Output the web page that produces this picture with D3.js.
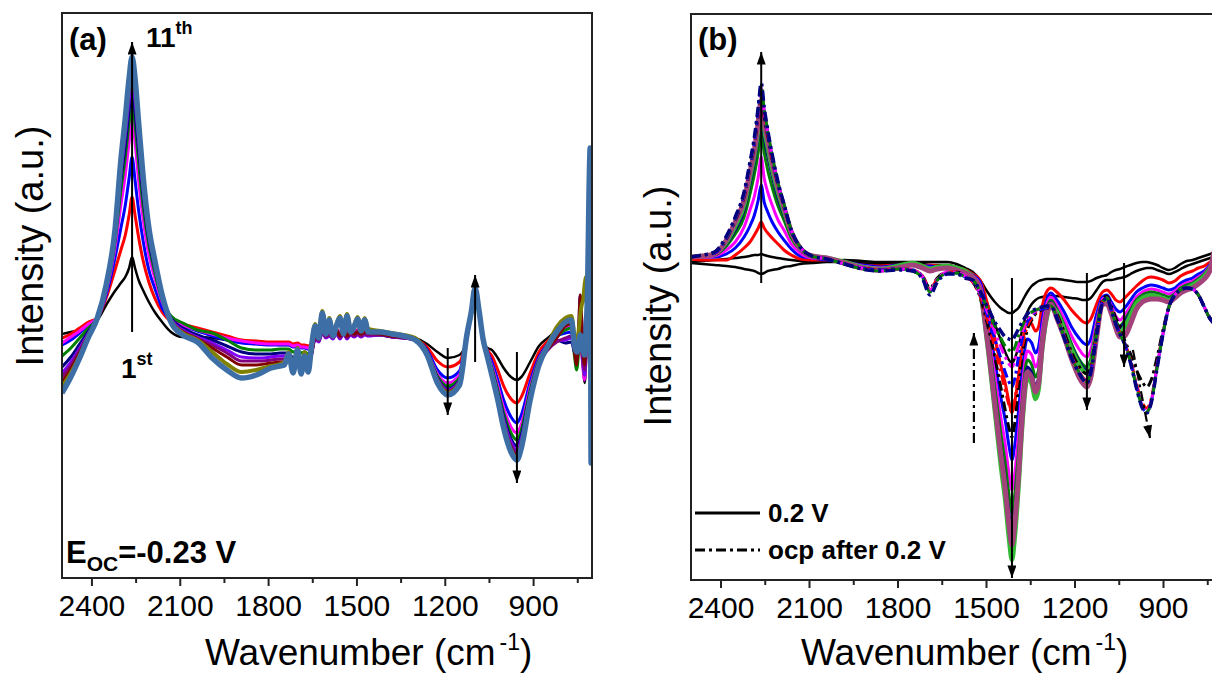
<!DOCTYPE html>
<html>
<head>
<meta charset="utf-8">
<script src="https://cdn.jsdelivr.net/npm/d3@7"></script>
<style>
  body { margin: 0; background: #fff; }
  svg { display: block; }
  text { font-family: Arial, "Liberation Sans", sans-serif; }
</style>
</head>
<body>
<svg id="fig" width="1212" height="676"></svg>
<script>
// ---------- Panel (a): spectra recorded at open circuit, scans 1 to 11 ----------
const waveA = [
  2500, 2470, 2440, 2410, 2380, 2350, 2320, 2300, 2285, 2272, 2262, 2252, 2240, 2225, 2205, 2185, 2160, 2130, 2090,
  2040, 1990, 1940, 1890, 1840, 1790, 1760,
  1745, 1730, 1715, 1700, 1688, 1676, 1664, 1652, 1640, 1628, 1616, 1604, 1592, 1580, 1568, 1556, 1544, 1532, 1520, 1508, 1496, 1484, 1472, 1460,
  1420, 1380, 1340, 1300, 1260, 1225, 1190, 1150, 1125, 1110, 1097, 1084, 1070, 1055, 1040, 1020, 1000, 975, 955, 940, 910, 880, 850, 820, 790, 770,
  760, 752, 745, 740, 735, 730, 725, 720, 715, 710, 706, 703, 700
];
const scanA01 = [
  6, 8, 10, 15, 20, 35, 49, 57, 63, 72, 83, 72, 60, 50, 38, 28, 18, 8, 3,
  3, 2, 0, -2, -4, -4, -5,
  -5, -5, -6, -6, -7, -7, -7, -4, 6, 5, 10, 8, 9, 7, 10, 7, 10, 7, 9, 8, 9, 8, 9, 8,
  6, 5, 4, 2, -4, -12, -18, -15, 0, 26, 48, 28, -2, -8, -10, -18, -28, -37, -40, -37, -22, -6, 2, 10, 17, 18,
  -5, -15, -10, 0, -15, -30, -43, -20, 40, 120, 180, -60, -20
];
const scanA02 = [
  2, 6, 12, 18, 22, 42, 70, 90, 105, 125, 143, 125, 103, 80, 58, 42, 28, 19, 16,
  12, 8, 4, 0, -1, -2, -2,
  -2, -2, -4, -3, -5, -5, -6, -3, 7, 5, 12, 9, 10, 8, 11, 7, 11, 7, 10, 8, 10, 8, 9, 8,
  7, 5, 4, 1, -7, -21, -27, -22, 3, 27, 50, 30, 1, -10, -16, -30, -46, -59, -63, -57, -33, -12, -1, 8, 15, 17,
  -3, -12, 5, 30, 10, -15, -30, 0, 40, 110, 160, -80, -30
];
const scanA03 = [
  -5, 0, 7, 15, 22, 45, 82, 112, 135, 162, 183, 160, 130, 100, 70, 52, 32, 20, 14,
  9, 4, 0, -3, -4, -5, -5,
  -5, -5, -7, -6, -8, -8, -9, -5, 6, 4, 11, 8, 9, 6, 10, 6, 10, 6, 9, 7, 9, 7, 8, 7,
  6, 4, 3, 1, -10, -30, -38, -31, 5, 27, 50, 30, 1, -12, -22, -40, -60, -77, -83, -75, -42, -17, -4, 4, 7, 8,
  -8, -10, 10, 45, 20, -10, -25, 0, 50, 130, 170, -85, -30
];
const scanA04 = [
  -3, 3, 9, 16, 22, 48, 92, 135, 165, 198, 222, 198, 160, 122, 85, 62, 38, 22, 15,
  10, 6, 2, -1, -3, -4, -4,
  -4, -4, -6, -5, -7, -7, -8, -4, 6, 4, 11, 8, 9, 6, 10, 6, 10, 6, 9, 7, 9, 7, 8, 7,
  6, 4, 3, 1, -12, -34, -43, -35, 5, 27, 50, 30, 1, -13, -26, -46, -68, -87, -93, -84, -47, -19, -5, 5, 12, 14,
  -5, -15, -5, 5, -10, -30, -40, -10, 40, 120, 165, -75, -25
];
const scanA05 = [
  -16, -8, 2, 12, 22, 50, 98, 150, 183, 218, 240, 216, 178, 135, 95, 68, 40, 24, 17,
  10, 7, 0, -8, -10, -10, -9,
  -9, -9, -12, -10, -13, -12, -14, -8, 4, 2, 10, 6, 8, 5, 9, 5, 9, 5, 8, 6, 8, 6, 8, 6,
  6, 4, 3, 1, -12, -36, -46, -38, 5, 27, 50, 30, 1, -14, -28, -50, -73, -93, -100, -90, -50, -20, -6, 3, 10, 12,
  -15, -30, -10, 10, -5, -25, -35, -10, 30, 110, 150, -70, -25
];
const scanA06 = [
  -27, -17, -4, 9, 22, 52, 102, 160, 195, 230, 252, 228, 190, 145, 100, 72, 42, 22, 12,
  5, 0, -6, -12, -14, -14, -13,
  -13, -13, -18, -14, -20, -17, -22, -12, 2, -1, 8, 3, 5, 2, 7, 2, 7, 2, 6, 4, 6, 4, 6, 5,
  5, 3, 2, 0, -13, -38, -49, -40, 5, 27, 50, 30, 1, -15, -30, -53, -77, -99, -106, -95, -53, -22, -8, 0, -3, -2,
  -12, -15, 0, 20, 5, -20, -30, 0, 40, 120, 160, -90, -35
];
const scanA07 = [
  -33, -22, -8, 7, 22, 53, 105, 167, 205, 240, 262, 240, 200, 152, 105, 75, 43, 21, 10,
  3, -3, -10, -17, -18, -17, -16,
  -16, -16, -21, -16, -23, -19, -25, -14, 1, -2, 7, 2, 4, 1, 6, 1, 6, 1, 5, 3, 5, 3, 5, 4,
  5, 3, 2, 0, -13, -39, -50, -41, 5, 27, 50, 30, 1, -16, -32, -55, -80, -102, -110, -99, -55, -23, -9, -1, 0, 2,
  -10, -18, -5, 10, 0, -25, -35, -5, 40, 110, 155, -80, -30
];
const scanA08 = [
  -37, -25, -10, 6, 22, 54, 107, 172, 212, 248, 269, 248, 207, 157, 108, 77, 44, 20, 9,
  2, -5, -13, -21, -21, -20, -19,
  -19, -18, -24, -17, -25, -20, -27, -14, 2, -1, 8, 3, 5, 2, 7, 2, 7, 2, 6, 4, 6, 4, 6, 5,
  5, 3, 2, 0, -14, -40, -51, -42, 5, 27, 50, 30, 1, -16, -33, -57, -82, -105, -113, -102, -57, -24, -10, -2, 2, 4,
  -8, -20, -2, 15, 0, -20, -30, 0, 40, 120, 160, -85, -30
];
const scanA09 = [
  -42, -29, -13, 5, 22, 55, 108, 176, 217, 254, 274, 254, 212, 161, 110, 78, 44, 19, 8,
  1, -8, -17, -25, -25, -23, -22,
  -22, -20, -27, -18, -28, -21, -28, -13, 4, 1, 12, 6, 8, 4, 10, 4, 10, 4, 9, 6, 8, 6, 8, 7,
  6, 4, 3, 1, -14, -41, -52, -43, 5, 27, 50, 30, 1, -17, -34, -58, -85, -108, -116, -104, -58, -24, -9, 2, 14, 16,
  -10, -25, 15, 45, 20, -15, -25, 10, 45, 120, 165, -80, -30
];
const scanA10 = [
  -47, -33, -16, 4, 22, 55, 109, 178, 220, 258, 278, 258, 215, 163, 111, 79, 45, 19, 7,
  0, -12, -24, -32, -30, -26, -24,
  -22, -12, -29, -8, -30, -12, -28, -3, 16, 5, 29, 9, 22, 7, 16, 24, 9, 26, 11, 15, 23, 12, 22, 11,
  9, 7, 5, 2, -14, -41, -53, -43, 5, 27, 51, 30, 1, -17, -34, -59, -86, -110, -118, -106, -59, -24, -5, 13, 22, 24,
  5, -5, 10, 25, 35, 40, 55, 63, 60, 110, 150, -95, -40
];
const scanA11 = [
  -53, -37, -18, 3, 22, 55, 110, 180, 222, 262, 283, 262, 218, 165, 112, 80, 45, 18, 5,
  -2, -18, -30, -38, -35, -28, -26,
  -25, -14, -33, -10, -34, -16, -32, -5, 14, 2, 27, 6, 20, 4, 14, 22, 6, 24, 8, 13, 21, 9, 20, 8,
  8, 6, 4, 0, -15, -43, -55, -45, 5, 28, 52, 30, 1, -17, -35, -60, -88, -112, -120, -108, -60, -25, -6, 8, 18, 20,
  -5, -12, -8, 5, 0, -10, -15, 10, 50, 150, 192, -123, -60
];

// ---------- Panel (b): spectra at 0.2 V (solid) and at ocp afterwards (dash-dot) ----------
const waveB = [
  2500, 2460, 2420, 2380, 2350, 2320, 2300, 2285, 2272, 2262, 2252, 2240, 2225, 2205, 2185, 2160, 2130, 2090,
  2040, 1980, 1920, 1860, 1800, 1750, 1715, 1690, 1665, 1630, 1600, 1570,
  1545, 1520, 1495, 1470, 1450, 1435, 1422, 1412, 1402, 1390, 1375, 1360, 1345, 1332, 1322, 1310, 1295, 1280,
  1260, 1235, 1210, 1185, 1170, 1158, 1145, 1125, 1105, 1090, 1075, 1060, 1046,
  1030, 1010, 990, 970, 955, 940, 920, 900, 880, 860, 840, 820, 800, 780, 760, 740, 720, 700
];
const potB1 = [
  0, 1, 2, 3, 4, 5, 6, 7, 7, 8, 7, 6, 5, 4, 3, 2, 1, 0,
  1, 2, 1, 0, 0, 0, 0, 0, 0, 0, -2, -6,
  -10, -18, -30, -40, -46, -49, -51, -51, -49, -46, -38, -30, -24, -21, -19, -18, -17, -17,
  -17, -18, -19, -20, -20, -20, -19, -16, -14, -13, -10, -8, -7,
  -5, -3, -1, 0, 0, -1, -3, -6, -8, -6, -2, 1, 2, 4, 6, 8, 10, 10
];
const potB2 = [
  -1, -2, -3, -4, -5, -7, -8, -9, -11, -12, -11, -9, -8, -7, -5, -4, -2, -1,
  0, 0, -1, -2, -2, -2, -2, -3, -3, -3, -5, -9,
  -14, -25, -42, -62, -78, -90, -98, -101, -96, -85, -65, -50, -42, -38, -36, -35, -34, -34,
  -34, -35, -36, -37, -38, -38, -36, -28, -20, -18, -18, -17, -16,
  -15, -12, -9, -7, -6, -6, -8, -10, -12, -10, -7, -4, -2, 0, 2, 4, 6, 6
];
const potB3 = [
  3, 2, 2, 2, 7, 14, 20, 27, 34, 40, 34, 29, 24, 18, 12, 7, 3, 2,
  2, 0, -3, -4, -3, -2, -4, -3, -4, -4, -6, -8,
  -12, -18, -42, -76, -103, -121, -140, -151, -139, -115, -79, -59, -62, -69, -65, -45, -30, -26,
  -30, -38, -48, -56, -60, -61, -57, -42, -30, -28, -32, -38, -40,
  -36, -30, -24, -19, -16, -15, -16, -18, -21, -19, -14, -11, -9, -6, -4, 0, 5, 5
];
const potB4 = [
  5, 5, 5, 8, 14, 25, 36, 47, 62, 77, 60, 50, 40, 30, 22, 13, 6, 4,
  2, 0, -3, -5, -3, -2, -4, -4, -5, -5, -7, -9,
  -13, -20, -55, -99, -135, -158, -184, -198, -182, -150, -103, -77, -81, -91, -85, -59, -38, -31,
  -38, -50, -65, -76, -81, -83, -77, -52, -35, -33, -40, -47, -50,
  -46, -38, -30, -26, -24, -23, -24, -26, -28, -26, -21, -18, -16, -12, -9, -2, 8, 8
];
const potB5 = [
  5, 5, 6, 12, 20, 35, 52, 66, 85, 105, 84, 70, 57, 42, 32, 18, 9, 4,
  3, 0, -4, -6, -4, -2, -5, -6, -6, -5, -7, -10,
  -14, -23, -64, -114, -155, -182, -212, -228, -210, -173, -119, -89, -93, -105, -98, -68, -43, -35,
  -43, -57, -74, -87, -93, -95, -88, -60, -37, -35, -44, -54, -58,
  -53, -44, -35, -30, -28, -27, -28, -30, -32, -29, -24, -21, -19, -15, -11, -3, 10, 10
];
const potB6 = [
  5, 6, 7, 16, 28, 45, 68, 88, 110, 130, 110, 92, 75, 56, 42, 24, 12, 5,
  4, 0, -5, -7, -5, -2, -5, -8, -6, -5, -7, -10,
  -14, -25, -70, -126, -171, -201, -233, -251, -231, -191, -131, -98, -103, -115, -108, -75, -48, -38,
  -47, -63, -82, -97, -103, -105, -97, -65, -39, -37, -47, -59, -64,
  -58, -48, -38, -33, -31, -30, -31, -33, -35, -32, -26, -23, -21, -17, -12, -4, 12, 12
];
const potB7 = [
  5, 6, 7, 18, 32, 52, 78, 100, 125, 145, 125, 106, 86, 64, 47, 27, 13, 5,
  4, -1, -6, -8, -6, -3, -6, -9, -7, -6, -8, -11,
  -15, -27, -76, -135, -184, -216, -251, -270, -248, -205, -140, -105, -111, -124, -116, -81, -51, -40,
  -49, -65, -84, -99, -106, -108, -100, -67, -40, -38, -48, -61, -66,
  -60, -50, -40, -35, -33, -32, -33, -35, -37, -34, -28, -25, -22, -18, -13, -5, 10, 10
];
const potB8 = [
  5, 6, 8, 20, 36, 57, 85, 107, 133, 155, 133, 115, 93, 70, 51, 29, 14, 6,
  4, 0, -5, -7, -4, -1, -4, -7, -5, -4, -6, -9,
  -15, -30, -83, -149, -203, -238, -277, -298, -274, -226, -155, -116, -122, -137, -128, -89, -57, -44,
  -50, -67, -87, -102, -109, -111, -103, -69, -41, -39, -49, -63, -70,
  -65, -53, -41, -36, -34, -33, -34, -36, -38, -35, -29, -26, -23, -19, -14, -6, 12, 12
];
const potB9 = [
  5, 6, 8, 22, 40, 62, 90, 112, 140, 162, 140, 122, 100, 75, 55, 30, 14, 6,
  4, -1, -6, -8, -6, -3, -6, -9, -7, -6, -8, -11,
  -15, -28, -79, -142, -192, -226, -263, -283, -260, -215, -147, -110, -116, -130, -122, -85, -54, -42,
  -56, -75, -97, -115, -122, -125, -116, -75, -42, -42, -52, -66, -75,
  -74, -62, -47, -40, -38, -37, -37, -38, -40, -36, -31, -28, -26, -22, -17, -8, 15, 15
];
const ocpB1 = [
  5, 7, 9, 23, 42, 65, 94, 117, 146, 168, 146, 126, 103, 77, 56, 31, 15, 6,
  3, -2, -6, -8, -7, -8, -14, -26, -16, -10, -10, -14,
  -20, -35, -62, -95, -125, -148, -166, -175, -160, -125, -90, -68, -58, -52, -50, -48, -46, -46,
  -52, -70, -90, -104, -110, -112, -104, -68, -38, -34, -44, -56, -64,
  -78, -92, -108, -120, -125, -118, -95, -68, -45, -33, -28, -26, -27, -33, -45, -56, -60, -60
];
const ocpB2 = [
  5, 7, 9, 24, 43, 66, 95, 119, 148, 170, 148, 128, 104, 78, 57, 31, 15, 6,
  3, -2, -6, -8, -7, -8, -14, -27, -17, -10, -10, -15,
  -20, -34, -58, -86, -110, -128, -143, -150, -138, -110, -82, -64, -56, -51, -49, -47, -46, -45,
  -54, -74, -94, -109, -116, -119, -109, -71, -40, -36, -48, -61, -71,
  -81, -98, -122, -141, -146, -137, -103, -71, -45, -33, -28, -26, -27, -33, -45, -57, -62, -62
];
const ocpB3 = [
  5, 7, 9, 24, 43, 67, 96, 120, 150, 172, 150, 129, 105, 78, 57, 31, 15, 6,
  3, -2, -6, -8, -7, -8, -15, -29, -18, -11, -11, -15,
  -19, -32, -54, -77, -96, -110, -120, -125, -116, -95, -74, -60, -54, -50, -48, -47, -46, -45,
  -55, -75, -95, -110, -117, -120, -110, -72, -40, -36, -48, -62, -72,
  -82, -100, -125, -145, -150, -140, -105, -72, -45, -33, -28, -26, -27, -33, -45, -57, -62, -62
];
const ocpB4 = [
  5, 7, 10, 25, 44, 68, 97, 122, 151, 174, 151, 130, 106, 79, 57, 32, 15, 6,
  3, -2, -6, -9, -7, -8, -15, -28, -17, -10, -10, -14,
  -19, -31, -50, -70, -85, -95, -102, -105, -98, -83, -68, -57, -52, -49, -47, -46, -45, -45,
  -55, -75, -95, -110, -117, -120, -110, -72, -40, -36, -48, -62, -72,
  -82, -100, -124, -144, -149, -139, -104, -72, -45, -33, -28, -26, -27, -33, -45, -57, -62, -62
];
const ocpB5 = [
  5, 7, 10, 25, 44, 69, 98, 123, 153, 176, 153, 131, 107, 79, 58, 32, 15, 6,
  3, -2, -7, -9, -7, -9, -16, -30, -18, -11, -11, -15,
  -18, -30, -47, -64, -76, -84, -88, -90, -85, -74, -63, -54, -50, -48, -47, -46, -45, -44,
  -55, -75, -95, -110, -117, -120, -110, -72, -40, -36, -48, -62, -72,
  -82, -100, -125, -145, -150, -140, -105, -72, -45, -33, -28, -26, -27, -33, -45, -57, -62, -62
];
const ocpB6 = [
  5, 7, 10, 26, 45, 70, 100, 125, 155, 179, 155, 132, 108, 80, 58, 32, 15, 6,
  3, -2, -7, -9, -8, -9, -17, -33, -20, -12, -12, -16,
  -18, -29, -45, -60, -69, -75, -77, -78, -74, -67, -59, -52, -49, -47, -46, -45, -44, -44,
  -56, -76, -96, -111, -118, -121, -111, -73, -41, -36, -48, -62, -72,
  -82, -101, -126, -146, -151, -141, -106, -72, -45, -33, -28, -26, -27, -33, -45, -57, -62, -62
];

// Axis ticks (cm-1)
const majorTicks = [2400, 2100, 1800, 1500, 1200, 900];
const minorTicks = [2250, 1950, 1650, 1350, 1050, 750];

// Arrows: [wavenumber, start intensity, tip intensity]
const arrowsA = [[2262, 8, 298], [1190, -8, -75], [1097, -22, 65], [955, -12, -143]];
const arrowsB = [[2262, -21, 210], [1412, -16, -316], [1158, -11, -148], [1032, -1, -105]];
// Dash-dot arrows: [wavenumber start, intensity start, wavenumber tip, intensity tip]
const dashArrowsB = [[1541, -181, 1541, -71], [1002, -88, 944, -176]];

// ---------- drawing ----------
const FONT = 'Arial, "Liberation Sans", sans-serif';
const DASHDOT = '10,4,3,4';
const svg = d3.select('#fig');
const defs = svg.append('defs');
defs.append('marker').attr('id', 'head')
  .attr('viewBox', '0 0 14 10').attr('refX', 14).attr('refY', 5)
  .attr('markerWidth', 14).attr('markerHeight', 9)
  .attr('markerUnits', 'userSpaceOnUse').attr('orient', 'auto')
  .append('path').attr('d', 'M0,0 L14,5 L0,10 Z').attr('fill', '#000');

const seriesA = [
  { v: scanA01, color: '#000000', w: 2.5 },
  { v: scanA02, color: '#ff0000', w: 3 },
  { v: scanA03, color: '#0000ff', w: 3 },
  { v: scanA04, color: '#ff00ff', w: 3 },
  { v: scanA05, color: '#008000', w: 3 },
  { v: scanA06, color: '#000080', w: 3 },
  { v: scanA07, color: '#8000ff', w: 3 },
  { v: scanA08, color: '#800080', w: 3 },
  { v: scanA09, color: '#800000', w: 3 },
  { v: scanA10, color: '#808000', w: 4 },
  { v: scanA11, color: '#3d6fa6', w: 5.5 }
];
const seriesB = [
  { v: potB1, color: '#000000', w: 2.5 },
  { v: potB2, color: '#000000', w: 2.5 },
  { v: potB3, color: '#ff0000', w: 3 },
  { v: potB4, color: '#0000ff', w: 3 },
  { v: potB5, color: '#ff00ff', w: 3 },
  { v: potB6, color: '#008000', w: 3 },
  { v: potB7, color: '#000080', w: 3 },
  { v: potB8, color: '#33bb33', w: 4.5 },
  { v: potB9, color: '#a3437c', w: 5 },
  { v: ocpB1, color: '#000000', w: 3, dash: DASHDOT },
  { v: ocpB2, color: '#ff0000', w: 3, dash: DASHDOT },
  { v: ocpB3, color: '#0000ff', w: 3, dash: DASHDOT },
  { v: ocpB4, color: '#ff00ff', w: 3, dash: DASHDOT },
  { v: ocpB5, color: '#008000', w: 3, dash: DASHDOT },
  { v: ocpB6, color: '#000080', w: 3.5, dash: DASHDOT }
];

[[waveA, seriesA], [waveB, seriesB]].forEach(([wv, ss]) => ss.forEach((s, i) => {
  if (s.v.length !== wv.length) throw new Error('series ' + i + ' has ' + s.v.length + ' values, grid has ' + wv.length);
}));

function drawPanel(p) {
  const g = svg.append('g');
  const x = d3.scaleLinear().domain([2500, 700]).range([p.left, p.right]);
  const y = d3.scaleLinear().domain(p.yDomain).range([p.bottom, p.top]);

  defs.append('clipPath').attr('id', 'clip-' + p.id).append('rect')
    .attr('x', p.left).attr('y', p.top)
    .attr('width', p.right - p.left).attr('height', p.bottom - p.top);

  const line = d3.line()
    .x((d, i) => x(p.wave[i]))
    .y(d => y(d))
    .curve(d3.curveMonotoneX);

  const plot = g.append('g').attr('clip-path', `url(#clip-${p.id})`);
  plot.selectAll('path.spec').data(p.series).join('path')
    .attr('class', 'spec')
    .attr('d', s => line(s.v))
    .attr('fill', 'none')
    .attr('stroke', s => s.color)
    .attr('stroke-width', s => s.w)
    .attr('stroke-dasharray', s => s.dash || null)
    .attr('stroke-linejoin', 'round');

  // frame
  g.append('rect').attr('x', p.left).attr('y', p.top)
    .attr('width', p.right - p.left).attr('height', p.bottom - p.top)
    .attr('fill', 'none').attr('stroke', '#222').attr('stroke-width', 2);

  // bottom axis
  const major = g.append('g').attr('transform', `translate(0,${p.bottom})`)
    .call(d3.axisBottom(x).tickValues(majorTicks).tickSize(8).tickPadding(9).tickFormat(d3.format('d')));
  const minor = g.append('g').attr('transform', `translate(0,${p.bottom})`)
    .call(d3.axisBottom(x).tickValues(minorTicks).tickSize(5).tickFormat(''));
  [major, minor].forEach(a => {
    a.select('.domain').remove();
    a.selectAll('line').attr('stroke', '#222').attr('stroke-width', 2);
  });
  major.selectAll('text').attr('font-size', 30).attr('font-family', FONT).attr('fill', '#000');

  // axis titles
  const xt = g.append('text').attr('x', p.xTitleX).attr('y', 665)
    .attr('font-size', 37).attr('font-family', FONT).attr('fill', '#000');
  xt.append('tspan').text('Wavenumber (cm');
  xt.append('tspan').attr('font-size', 23).attr('dy', -15).attr('dx', 4).text('-1');
  xt.append('tspan').attr('dy', 15).text(')');

  g.append('text')
    .attr('transform', `translate(${p.yTitleX},${p.yTitleY}) rotate(-90)`)
    .attr('text-anchor', 'middle').attr('font-size', 38).attr('font-family', FONT)
    .attr('fill', '#000').text('Intensity (a.u.)');

  // arrows
  g.selectAll('line.arrow').data(p.arrows).join('line')
    .attr('class', 'arrow')
    .attr('x1', d => x(d[0])).attr('x2', d => x(d[0]))
    .attr('y1', d => y(d[1])).attr('y2', d => y(d[2]))
    .attr('stroke', '#000').attr('stroke-width', 2)
    .attr('marker-end', 'url(#head)');
  g.selectAll('line.darrow').data(p.dashArrows || []).join('line')
    .attr('class', 'darrow')
    .attr('x1', d => x(d[0])).attr('y1', d => y(d[1]))
    .attr('x2', d => x(d[2])).attr('y2', d => y(d[3]))
    .attr('stroke', '#000').attr('stroke-width', 2.2)
    .attr('stroke-dasharray', DASHDOT)
    .attr('marker-end', 'url(#head)');

  // panel tag
  g.append('text').attr('x', p.left + 7).attr('y', 50)
    .attr('font-size', 31).attr('font-weight', 'bold').attr('font-family', FONT).text(p.tag);
  return g;
}

const gA = drawPanel({
  id: 'a', tag: '(a)', left: 62, right: 592, top: 13, bottom: 578,
  yDomain: [-238, 327], wave: waveA, series: seriesA, arrows: arrowsA,
  xTitleX: 205, yTitleX: 43, yTitleY: 246
});
const gB = drawPanel({
  id: 'b', tag: '(b)', left: 691, right: 1222, top: 14, bottom: 580,
  yDomain: [-318, 248], wave: waveB, series: seriesB, arrows: arrowsB, dashArrows: dashArrowsB,
  xTitleX: 801, yTitleX: 671, yTitleY: 306
});

// annotations, panel (a)
function bold(g, x, y, size) {
  return g.append('text').attr('x', x).attr('y', y).attr('font-size', size)
    .attr('font-weight', 'bold').attr('font-family', FONT).attr('fill', '#000');
}
const t11 = bold(gA, 146, 47, 28);
t11.append('tspan').text('11');
t11.append('tspan').attr('font-size', 18).attr('dy', -13).text('th');
const t1 = bold(gA, 121, 378, 28);
t1.append('tspan').text('1');
t1.append('tspan').attr('font-size', 18).attr('dy', -13).text('st');
const tE = bold(gA, 66, 563, 31);
tE.append('tspan').text('E');
tE.append('tspan').attr('font-size', 21).attr('dy', 8).text('OC');
tE.append('tspan').attr('dy', -8).text('=-0.23 V');

// legend, panel (b)
const legend = [
  { label: '0.2 V', dash: null, y: 513 },
  { label: 'ocp after 0.2 V', dash: DASHDOT, y: 550 }
];
legend.forEach(l => {
  gB.append('line').attr('x1', 695).attr('x2', 760).attr('y1', l.y).attr('y2', l.y)
    .attr('stroke', '#000').attr('stroke-width', 3).attr('stroke-dasharray', l.dash);
  bold(gB, 768, l.y + 9, 26).text(l.label);
});
</script>
</body>
</html>
